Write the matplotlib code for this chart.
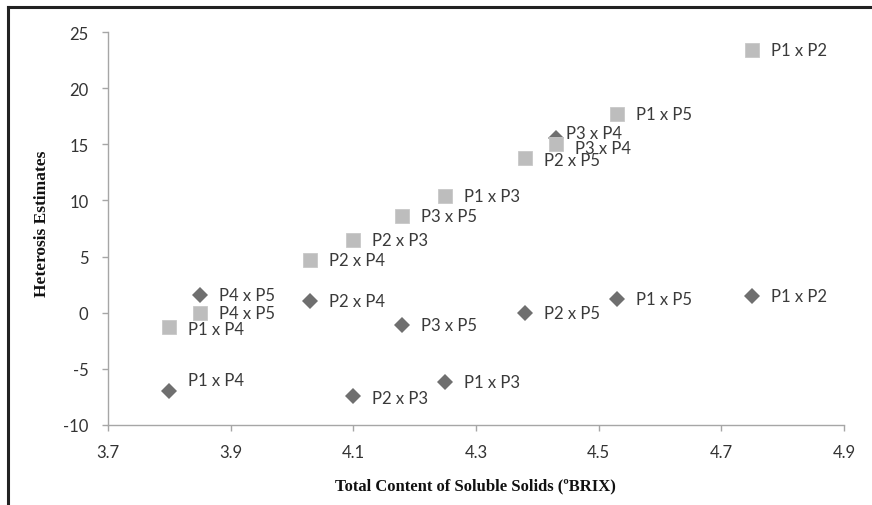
import matplotlib
matplotlib.use("Agg")
import matplotlib.pyplot as plt
from matplotlib.lines import Line2D

# ---- data ----
crosses_sq = ["P1 x P2", "P1 x P5", "P3 x P4", "P2 x P5", "P1 x P3",
              "P3 x P5", "P2 x P3", "P2 x P4", "P4 x P5", "P1 x P4"]
tss_sq = [4.75, 4.53, 4.43, 4.38, 4.25, 4.18, 4.10, 4.03, 3.85, 3.80]
het_sq = [23.4, 17.7, 15.0, 13.8, 10.4, 8.6, 6.5, 4.7, 0.0, -1.3]

crosses_di = ["P1 x P2", "P1 x P5", "P3 x P4", "P2 x P5", "P1 x P3",
              "P3 x P5", "P2 x P3", "P2 x P4", "P4 x P5", "P1 x P4"]
tss_di = [4.75, 4.53, 4.43, 4.38, 4.25, 4.18, 4.10, 4.03, 3.85, 3.80]
het_di = [1.5, 1.2, 15.6, 0.0, -6.2, -1.1, -7.4, 1.0, 1.6, -7.0]

x_ticks = [3.7, 3.9, 4.1, 4.3, 4.5, 4.7, 4.9]
y_ticks = [-10, -5, 0, 5, 10, 15, 20, 25]

# label offsets in points (layout only)
default_off = (13.7, 0)
off_di = {"P3 x P4": (7.5, 3), "P1 x P4": (13.7, 8), "P2 x P3": (13.7, -1.5)}
off_sq = {"P3 x P4": (13.7, -3), "P2 x P5": (13.7, -1.5), "P1 x P4": (13.7, -1.5)}

label_font = "Lato"
text_col = "#3a3a3a"

fig = plt.figure(figsize=(8.72, 5.06), dpi=100)
ax = fig.add_axes([108/872, 1-426/506, (844-108)/872, (426-33)/506])

ax.plot(tss_di, het_di, linestyle="none", marker="D", markersize=7.8,
        color="#6f6f6f", markeredgewidth=0, zorder=3)
ax.plot(tss_sq, het_sq, linestyle="none", marker="s", markersize=10.6,
        color="#bdbdbd", markeredgecolor="#c8c8c8", markeredgewidth=0.6, zorder=4)

for name, x, y in zip(crosses_di, tss_di, het_di):
    ax.annotate(name, (x, y), xytext=off_di.get(name, default_off),
                textcoords="offset points", ha="left", va="center",
                fontsize=12, family=label_font, color=text_col, zorder=5)
for name, x, y in zip(crosses_sq, tss_sq, het_sq):
    ax.annotate(name, (x, y), xytext=off_sq.get(name, default_off),
                textcoords="offset points", ha="left", va="center",
                fontsize=12, family=label_font, color=text_col, zorder=5)

ax.set_xlim(3.7, 4.9)
ax.set_ylim(-10, 25)
ax.set_xticks(x_ticks)
ax.set_yticks(y_ticks)
ax.set_xticklabels([f"{v:.1f}" for v in x_ticks])
ax.set_yticklabels([str(v) for v in y_ticks])

for s in ["top", "right"]:
    ax.spines[s].set_visible(False)
for s in ["left", "bottom"]:
    ax.spines[s].set_color("#a6a6a6")
    ax.spines[s].set_linewidth(1.0)
ax.tick_params(axis="both", direction="out", length=4, width=1.0,
               color="#a6a6a6", labelsize=12, labelcolor="#333333")
ax.tick_params(axis="y", pad=10)
ax.tick_params(axis="x", pad=10)
for lab in ax.get_xticklabels() + ax.get_yticklabels():
    lab.set_family(label_font)

ax.set_xlabel("Total Content of Soluble Solids (ºBRIX)", family="Liberation Serif",
              fontweight="bold", fontsize=12, color="#111111")
ax.xaxis.set_label_coords((475-108)/(844-108), -(486-426)/(426-33))
ax.xaxis.label.set_va("center")
ax.set_ylabel("Heterosis Estimates", family="Liberation Serif",
              fontweight="bold", fontsize=12.5, color="#111111")
ax.yaxis.set_label_coords((42-108)/(844-108), (426-224)/(426-33))
ax.yaxis.label.set_va("center")

# outer frame (top and left edges)
fig.add_artist(Line2D([8/872, 1.0], [1-8/506, 1-8/506], transform=fig.transFigure,
                      color="#222222", linewidth=2.2))
fig.add_artist(Line2D([8/872, 8/872], [1-8/506, 0.0], transform=fig.transFigure,
                      color="#222222", linewidth=2.2))

fig.savefig("out.png", dpi=100)
